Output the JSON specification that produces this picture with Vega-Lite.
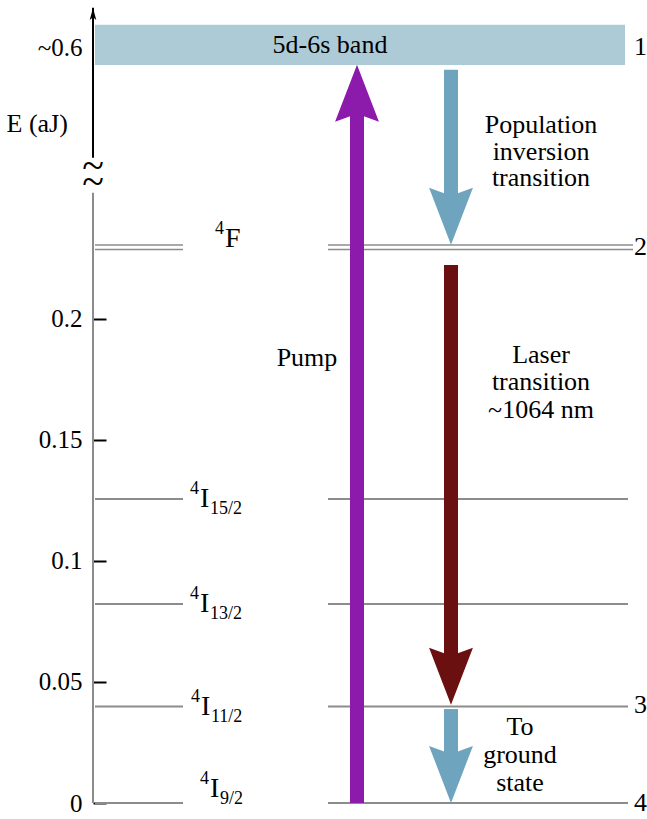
{
  "$schema": "https://vega.github.io/schema/vega-lite/v6.json",
  "width": 554,
  "height": 799,
  "autosize": {"type": "none"},
  "padding": {"left": 93, "top": 4, "right": 0, "bottom": 16},
  "background": "white",
  "config": {
    "view": {"stroke": null},
    "text": {"font": "Liberation Serif, DejaVu Serif, serif", "color": "black"}
  },
  "resolve": {"scale": {"color": "independent", "shape": "independent", "strokeWidth": "independent"}},
  "layer": [
    {
      "data": {"values": [{"x": 2, "x2": 532, "E": 0.3048, "E2": 0.3214}]},
      "mark": {"type": "rect", "color": "#adcbd7"},
      "encoding": {
        "x": {"field": "x", "type": "quantitative", "scale": {"domain": [0, 554], "nice": false}, "axis": null},
        "x2": {"field": "x2"},
        "y": {
          "field": "E", "type": "quantitative",
          "scale": {"domain": [0, 0.33], "nice": false, "zero": false},
          "axis": {
            "title": "E (aJ)",
            "titleAngle": 0,
            "titleFont": "Liberation Serif, DejaVu Serif, serif",
            "titleFontSize": 26,
            "titleFontWeight": "normal",
            "titleColor": "black",
            "titleAlign": "left",
            "titleBaseline": "middle",
            "titleX": -87,
            "titleY": 119,
            "values": [0, 0.05, 0.1, 0.15, 0.2, 0.312],
            "labelExpr": "datum.value > 0.3 ? '~0.6' : format(datum.value, '~g')",
            "labelFont": "Liberation Serif, DejaVu Serif, serif",
            "labelFontSize": 25,
            "labelColor": "black",
            "labelPadding": 24,
            "domain": false,
            "grid": false,
            "tickColor": "black",
            "tickWidth": 2,
            "tickSize": -13,
            "tickOpacity": {"condition": {"test": "datum.value > 0.3", "value": 0}, "value": 1}
          }
        },
        "y2": {"field": "E2"}
      }
    },
    {
      "data": {"values": [
        {"x": 2, "x2": 90, "E": 0.2305, "kind": "double"},
        {"x": 2, "x2": 90, "E": 0.2286, "kind": "double"},
        {"x": 235, "x2": 540, "E": 0.2305, "kind": "double"},
        {"x": 235, "x2": 540, "E": 0.2286, "kind": "double"},
        {"x": 2, "x2": 90, "E": 0.1256, "kind": "single"},
        {"x": 235, "x2": 535, "E": 0.1256, "kind": "single"},
        {"x": 2, "x2": 90, "E": 0.0822, "kind": "single"},
        {"x": 235, "x2": 535, "E": 0.0822, "kind": "single"},
        {"x": 2, "x2": 90, "E": 0.0399, "kind": "single"},
        {"x": 235, "x2": 535, "E": 0.0399, "kind": "single"},
        {"x": 2, "x2": 90, "E": 0, "kind": "single"},
        {"x": 235, "x2": 535, "E": 0, "kind": "single"}
      ]},
      "mark": {"type": "rule", "color": "#8c8c8c"},
      "encoding": {
        "x": {"field": "x", "type": "quantitative"},
        "x2": {"field": "x2"},
        "y": {"field": "E", "type": "quantitative"},
        "strokeWidth": {"field": "kind", "type": "nominal", "scale": {"domain": ["single", "double"], "range": [2, 1.5]}, "legend": null}
      }
    },
    {
      "data": {"values": [{"x": 0, "E": 0, "E2": 0.2520}]},
      "mark": {"type": "rule", "color": "#8c8c8c", "strokeWidth": 2},
      "encoding": {
        "x": {"field": "x", "type": "quantitative"},
        "y": {"field": "E", "type": "quantitative"},
        "y2": {"field": "E2"}
      }
    },
    {
      "data": {"values": [{"x": 0, "E": 0.2665, "E2": 0.3284}]},
      "mark": {"type": "rule", "color": "black", "strokeWidth": 2},
      "encoding": {
        "x": {"field": "x", "type": "quantitative"},
        "y": {"field": "E", "type": "quantitative"},
        "y2": {"field": "E2"}
      }
    },
    {
      "data": {"values": [{"x": 0, "E": 0.3259}]},
      "mark": {"type": "point", "filled": true, "opacity": 1, "color": "black", "size": 144, "shape": "M0,-1 L-0.55,1 L0,0.55 L0.55,1 Z"},
      "encoding": {
        "x": {"field": "x", "type": "quantitative"},
        "y": {"field": "E", "type": "quantitative"}
      }
    },
    {
      "data": {"values": [{"x": 0, "E": 0.2625, "t": "~"}, {"x": 0, "E": 0.2560, "t": "~"}]},
      "mark": {"type": "text", "fontSize": 40, "align": "center", "baseline": "middle"},
      "encoding": {
        "x": {"field": "x", "type": "quantitative"},
        "y": {"field": "E", "type": "quantitative"},
        "text": {"field": "t"}
      }
    },
    {
      "data": {"values": [
        {"x": 264, "E": 0, "E2": 0.2854, "kind": "pump"},
        {"x": 358, "E": 0.3028, "E2": 0.2491, "kind": "relax"},
        {"x": 358, "E": 0.2222, "E2": 0.0591, "kind": "laser"},
        {"x": 358, "E": 0.0388, "E2": 0.0178, "kind": "relax"}
      ]},
      "mark": {"type": "rule", "strokeWidth": 14, "strokeCap": "butt"},
      "encoding": {
        "x": {"field": "x", "type": "quantitative"},
        "y": {"field": "E", "type": "quantitative"},
        "y2": {"field": "E2"},
        "color": {"field": "kind", "type": "nominal", "scale": {"domain": ["pump", "relax", "laser"], "range": ["#8c1aab", "#6fa4be", "#6b1010"]}, "legend": null}
      }
    },
    {
      "data": {"values": [
        {"x": 264, "E": 0.2931, "kind": "pump", "dir": "up"},
        {"x": 358, "E": 0.2423, "kind": "relax", "dir": "down"},
        {"x": 358, "E": 0.0523, "kind": "laser", "dir": "down"},
        {"x": 358, "E": 0.0118, "kind": "relax", "dir": "down"}
      ]},
      "mark": {"type": "point", "filled": true, "opacity": 1, "size": 3249, "strokeWidth": 0},
      "encoding": {
        "x": {"field": "x", "type": "quantitative"},
        "y": {"field": "E", "type": "quantitative"},
        "color": {"field": "kind", "type": "nominal", "scale": {"domain": ["pump", "relax", "laser"], "range": ["#8c1aab", "#6fa4be", "#6b1010"]}, "legend": null},
        "shape": {"field": "dir", "type": "nominal", "scale": {"domain": ["up", "down"], "range": ["M0,-1 L-0.77,1 L0,0.72 L0.77,1 Z", "M0,1 L-0.77,-1 L0,-0.72 L0.77,-1 Z"]}, "legend": null}
      }
    },
    {
      "data": {"values": [
        {"x": 237, "E": 0.3131, "t": "5d-6s band"},
        {"x": 448, "E": 0.2800, "t": "Population"},
        {"x": 448, "E": 0.2690, "t": "inversion"},
        {"x": 448, "E": 0.2580, "t": "transition"},
        {"x": 214, "E": 0.1838, "t": "Pump"},
        {"x": 448, "E": 0.1850, "t": "Laser"},
        {"x": 448, "E": 0.1737, "t": "transition"},
        {"x": 448, "E": 0.1623, "t": "~1064 nm"},
        {"x": 427, "E": 0.0314, "t": "To"},
        {"x": 427, "E": 0.0198, "t": "ground"},
        {"x": 427, "E": 0.0083, "t": "state"}
      ]},
      "mark": {"type": "text", "fontSize": 26, "align": "center", "baseline": "middle"},
      "encoding": {
        "x": {"field": "x", "type": "quantitative"},
        "y": {"field": "E", "type": "quantitative"},
        "text": {"field": "t"}
      }
    },
    {
      "data": {"values": [
        {"x": 541, "E": 0.3123, "t": "1"},
        {"x": 541, "E": 0.2297, "t": "2"},
        {"x": 541, "E": 0.0405, "t": "3"},
        {"x": 541, "E": 0, "t": "4"}
      ]},
      "mark": {"type": "text", "fontSize": 26, "align": "left", "baseline": "middle"},
      "encoding": {
        "x": {"field": "x", "type": "quantitative"},
        "y": {"field": "E", "type": "quantitative"},
        "text": {"field": "t"}
      }
    },
    {
      "data": {"name": "terms", "values": [
        {"x": 132, "E": 0.2297, "sup": "4", "core": "F", "sub": ""},
        {"x": 107, "E": 0.1223, "sup": "4", "core": "I", "sub": "15/2"},
        {"x": 107, "E": 0.0789, "sup": "4", "core": "I", "sub": "13/2"},
        {"x": 108, "E": 0.0363, "sup": "4", "core": "I", "sub": "11/2"},
        {"x": 117, "E": 0.0025, "sup": "4", "core": "I", "sub": "9/2"}
      ]},
      "layer": [
        {
          "mark": {"type": "text", "fontSize": 28, "align": "left", "baseline": "alphabetic"},
          "encoding": {
            "x": {"field": "x", "type": "quantitative"},
            "y": {"field": "E", "type": "quantitative"},
            "text": {"field": "core"}
          }
        },
        {
          "mark": {"type": "text", "fontSize": 18, "align": "right", "baseline": "alphabetic", "dx": -1, "dy": -13},
          "encoding": {
            "x": {"field": "x", "type": "quantitative"},
            "y": {"field": "E", "type": "quantitative"},
            "text": {"field": "sup"}
          }
        },
        {
          "mark": {"type": "text", "fontSize": 18, "align": "left", "baseline": "alphabetic", "dx": 10, "dy": 7},
          "encoding": {
            "x": {"field": "x", "type": "quantitative"},
            "y": {"field": "E", "type": "quantitative"},
            "text": {"field": "sub"}
          }
        }
      ]
    }
  ]
}
